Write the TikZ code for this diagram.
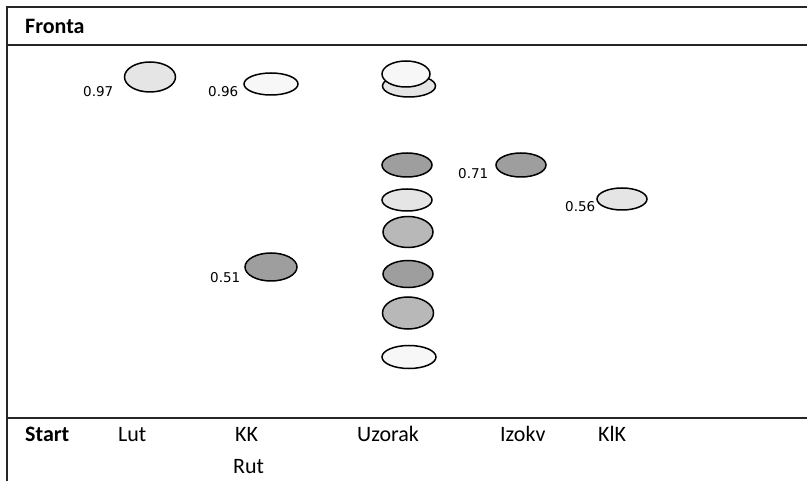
\documentclass[tikz,border=0pt]{standalone}
\usepackage{fontspec}
\setmainfont{Carlito}
\newfontfamily\numfont{DejaVu Sans}
\usetikzlibrary{shapes.geometric}
\definecolor{fwhite}{gray}{0.97}
\definecolor{flight}{gray}{0.90}
\definecolor{fmid}{gray}{0.72}
\definecolor{fdark}{gray}{0.62}
\definecolor{linec}{gray}{0.15}
\tikzset{
  blob/.style={ellipse, draw=black, line width=1.5pt, inner sep=0pt},
  numlbl/.style={font=\numfont\fontsize{13.5}{14}\selectfont, inner sep=0pt, anchor=base west},
  collbl/.style={font=\fontsize{22}{24}\selectfont, inner sep=0pt, anchor=base west},
  frame/.style={draw=linec, line width=1.4pt}
}
\begin{document}
\begin{tikzpicture}[x=1pt,y=-1pt]
\useasboundingbox (0,0) rectangle (807,481);
% frame
\coordinate (tl) at (7,7);
\coordinate (tr) at (807,7);
\coordinate (bl) at (7,481);
\coordinate (hl) at (7,45);
\coordinate (hr) at (807,45);
\coordinate (fl) at (7,418);
\coordinate (fr) at (807,418);
\draw[frame] (tr) -- (tl) -- (bl);
\draw[frame] (hl) -- (hr);
\draw[frame] (fl) -- (fr);
\node[collbl, font=\bfseries\fontsize{22}{24}\selectfont] (fronta) at (25,34) {Fronta};
% Lut
\node[blob, fill=flight, minimum width=51pt, minimum height=30pt] (lut1) at (150,77) {};
\node[numlbl] (l097) at (83,97) {0.97};
% KK
\node[blob, fill=fwhite, minimum width=54pt, minimum height=22pt] (kk1) at (271,84) {};
\node[numlbl] (l096) at (208,97) {0.96};
\node[blob, fill=fdark, minimum width=52pt, minimum height=28pt] (kk2) at (271,267) {};
\node[numlbl] (l051) at (210,283) {0.51};
% Uzorak
\node[blob, fill=flight, minimum width=53pt, minimum height=22pt] (u0b) at (409,86) {};
\node[blob, fill=fwhite, minimum width=48pt, minimum height=26pt] (u0a) at (406,74) {};
\node[blob, fill=fdark, minimum width=50pt, minimum height=24pt] (u1) at (407,165) {};
\node[blob, fill=flight, minimum width=50pt, minimum height=22pt] (u2) at (407,200) {};
\node[blob, fill=fmid, minimum width=50pt, minimum height=31pt] (u3) at (408,232) {};
\node[blob, fill=fdark, minimum width=50pt, minimum height=27pt] (u4) at (408,274) {};
\node[blob, fill=fmid, minimum width=51pt, minimum height=32pt] (u5) at (408,313) {};
\node[blob, fill=fwhite, minimum width=54pt, minimum height=23pt] (u6) at (409,357) {};
% Izokv
\node[blob, fill=fdark, minimum width=50pt, minimum height=24pt] (iz1) at (521,165) {};
\node[numlbl] (l071) at (458,179) {0.71};
% KlK
\node[blob, fill=flight, minimum width=50pt, minimum height=22pt] (kl1) at (622,199) {};
\node[numlbl] (l056) at (565,212) {0.56};
% bottom labels
\node[collbl, font=\bfseries\fontsize{22}{24}\selectfont] (start) at (25,442) {Start};
\node[collbl] (clut) at (118,442) {Lut};
\node[collbl] (ckk) at (235,442) {KK};
\node[collbl] (crut) at (233,473) {Rut};
\node[collbl] (cuz) at (357,442) {Uzorak};
\node[collbl] (ciz) at (500,442) {Izokv};
\node[collbl] (ckl) at (598,442) {KlK};
\end{tikzpicture}
\end{document}
